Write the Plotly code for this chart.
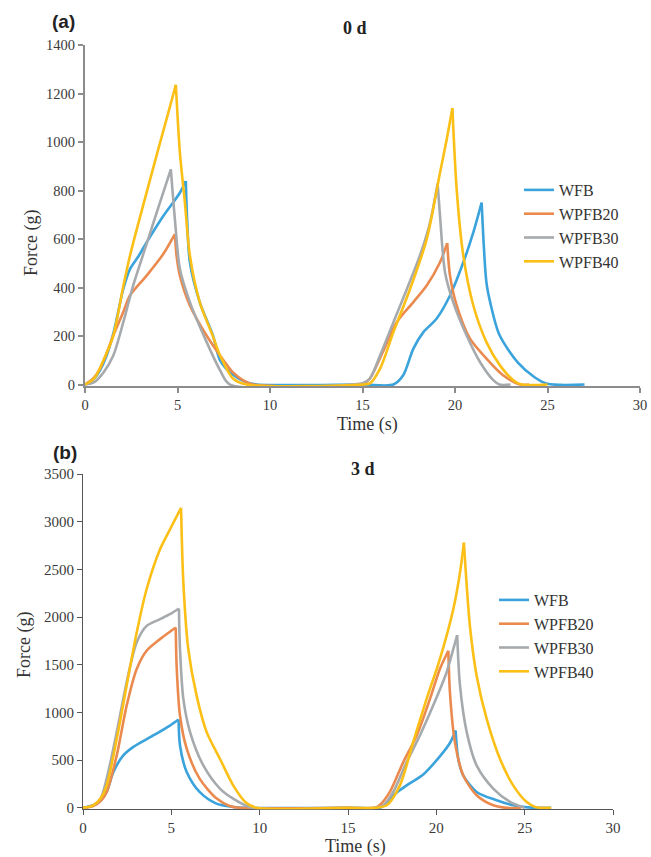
import plotly.graph_objects as go

W, H = 651, 857

series_names = ["WFB", "WPFB20", "WPFB30", "WPFB40"]
colors = ["#3AA3DC", "#EA8A4E", "#A7AAAD", "#FBBF16"]

# ---------- (a) 0 d ----------
a_wfb_t = [0, 0.5, 0.81, 1.17, 1.53, 2.07, 2.43, 2.9, 3.33, 4.23, 5.13, 5.45, 5.52, 5.67, 6.2, 6.92, 7.3, 8.0, 8.7, 9.3,
           15.0, 16.67, 17.2, 17.75, 18.29, 19.0, 19.73, 20.45, 20.99, 21.44, 21.7, 21.9, 22.4, 23.4, 24.3, 25.0, 27.0]
a_wfb_f = [0, 25, 59, 120, 210, 394, 476, 530, 586, 695, 791, 839, 681, 504, 340, 202, 100, 40, 10, 0,
           0, 0, 38, 148, 216, 271, 367, 504, 627, 750, 420, 340, 205, 90, 30, 3, 0]

a_w20_t = [0, 0.5, 0.81, 1.17, 1.53, 2.07, 2.43, 3.33, 4.23, 4.86, 4.95, 5.13, 5.67, 6.57, 7.3, 8.0, 8.6, 9.1,
           15.0, 15.4, 16.1, 16.85, 17.75, 18.47, 19.19, 19.58, 19.73, 20.09, 20.81, 21.7, 22.6, 23.5, 24.0]
a_w20_f = [0, 30, 66, 130, 202, 299, 367, 449, 538, 620, 531, 449, 326, 202, 120, 50, 15, 0,
           0, 25, 134, 257, 340, 408, 504, 583, 449, 326, 189, 107, 38, 0, 0]

a_w30_t = [0, 0.5, 1.0, 1.53, 2.07, 2.61, 3.33, 4.05, 4.64, 4.86, 5.13, 5.67, 6.57, 7.3, 7.84,
           14.5, 15.0, 15.4, 15.95, 16.67, 17.4, 18.1, 18.65, 19.06, 19.19, 19.46, 19.9, 20.63, 21.35, 22.07, 22.4, 23.0]
a_w30_f = [0, 10, 50, 120, 257, 410, 580, 750, 887, 681, 476, 340, 176, 59, 0,
           0, 5, 25, 120, 257, 394, 531, 668, 829, 695, 463, 340, 202, 93, 18, 0, 0]

a_w40_t = [0, 0.5, 1.0, 1.53, 2.07, 2.43, 3.06, 3.87, 4.5, 4.91, 5.13, 5.4, 5.67, 6.2, 6.9, 7.3, 8.0, 8.74,
           15.0, 15.4, 15.95, 16.67, 17.57, 18.47, 19.19, 19.55, 19.86, 20.09, 20.45, 20.99, 21.7, 22.43, 23.15, 23.6, 25.0]
a_w40_f = [0, 25, 100, 202, 405, 531, 715, 945, 1120, 1236, 955, 750, 531, 340, 202, 120, 25, 0,
           0, 5, 66, 216, 394, 599, 873, 1010, 1140, 805, 531, 326, 175, 79, 18, 0, 0]

# ---------- (b) 3 d ----------
b_wfb_t = [0, 0.58, 1.0, 1.34, 1.72, 2.28, 2.85, 3.98, 4.92, 5.41, 5.49, 5.87, 6.6, 7.55, 8.5, 9.2,
           15.0, 16.8, 17.0, 17.56, 18.32, 19.26, 20.2, 20.77, 21.09, 21.24, 21.52, 22.28, 23.41, 24.35, 25.2, 26.5]
b_wfb_f = [0, 27, 80, 167, 376, 550, 640, 759, 863, 926, 654, 376, 167, 45, 10, 0,
           0, 0, 20, 132, 236, 350, 540, 680, 811, 515, 341, 167, 80, 27, 5, 0]

b_w20_t = [0, 0.58, 1.0, 1.34, 1.91, 2.47, 3.04, 3.6, 4.36, 5.25, 5.3, 5.49, 5.87, 6.6, 7.57, 8.3, 8.9,
           15.0, 16.5, 16.8, 17.37, 18.13, 18.89, 19.64, 20.2, 20.68, 20.77, 21.05, 21.52, 22.28, 23.22, 24.0, 24.8]
b_w20_f = [0, 20, 70, 167, 550, 1072, 1456, 1647, 1769, 1891, 1490, 968, 620, 306, 97, 20, 0,
           0, 0, 30, 167, 480, 759, 1142, 1456, 1647, 1212, 690, 341, 132, 27, 0, 0]

b_w30_t = [0, 0.58, 1.0, 1.34, 1.91, 2.47, 3.04, 3.6, 4.36, 4.92, 5.43, 5.49, 5.68, 6.06, 6.81, 7.75, 8.5, 9.6,
           15.0, 16.5, 17.0, 17.56, 18.32, 19.07, 19.82, 20.58, 20.96, 21.18, 21.34, 21.72, 22.28, 23.22, 24.17, 25.0]
b_w30_f = [0, 25, 100, 306, 794, 1317, 1735, 1908, 1978, 2030, 2090, 1665, 1142, 794, 445, 202, 97, 0,
           0, 0, 27, 167, 480, 759, 1072, 1421, 1665, 1811, 1281, 794, 445, 202, 63, 0]

b_w40_t = [0, 0.58, 1.0, 1.34, 1.91, 2.47, 3.04, 3.6, 4.36, 4.92, 5.55, 5.68, 5.96, 6.43, 7.0, 7.75, 8.5, 9.2, 9.83,
           15.0, 16.5, 17.19, 17.94, 18.69, 19.45, 20.2, 20.96, 21.34, 21.56, 21.62, 21.9, 22.28, 22.85, 23.6, 24.35, 25.1, 25.6, 26.5]
b_w40_f = [0, 27, 100, 236, 724, 1281, 1839, 2292, 2710, 2918, 3145, 2362, 1665, 1177, 794, 515, 236, 60, 0,
           0, 0, 27, 236, 690, 1142, 1560, 2083, 2466, 2780, 2605, 1908, 1386, 933, 515, 236, 63, 10, 0]

a_sets = [(a_wfb_t, a_wfb_f), (a_w20_t, a_w20_f), (a_w30_t, a_w30_f), (a_w40_t, a_w40_f)]
b_sets = [(b_wfb_t, b_wfb_f), (b_w20_t, b_w20_f), (b_w30_t, b_w30_f), (b_w40_t, b_w40_f)]

x_ticks = [0, 5, 10, 15, 20, 25, 30]
a_y_ticks = [0, 200, 400, 600, 800, 1000, 1200, 1400]
b_y_ticks = [0, 500, 1000, 1500, 2000, 2500, 3000, 3500]

SERIF = "Liberation Serif, Times New Roman, serif"
SANS = "Liberation Sans, Arial, sans-serif"


def split_at_peaks(t, f):
    """Break the path at each sharp peak so the spline keeps the cusp."""
    xs, ys = [], []
    n = len(t)
    for i in range(n):
        xs.append(t[i])
        ys.append(f[i])
        if 0 < i < n - 1 and f[i] > f[i - 1] and f[i] > f[i + 1]:
            xs.extend([None, t[i]])
            ys.extend([None, f[i]])
    return xs, ys


fig = go.Figure()
for name, col, (t, f) in zip(series_names, colors, a_sets):
    xs, ys = split_at_peaks(t, f)
    fig.add_trace(go.Scatter(x=xs, y=ys, mode="lines", name=name, connectgaps=False,
                             line=dict(color=col, width=2.6, shape="spline", smoothing=0.8),
                             xaxis="x", yaxis="y", legend="legend"))
for name, col, (t, f) in zip(series_names, colors, b_sets):
    xs, ys = split_at_peaks(t, f)
    fig.add_trace(go.Scatter(x=xs, y=ys, mode="lines", name=name, connectgaps=False,
                             line=dict(color=col, width=2.6, shape="spline", smoothing=0.8),
                             xaxis="x2", yaxis="y2", legend="legend2"))


# helpers: page pixel (reference picture) -> paper fraction
def px_x(p):
    return p / W


def px_y(p):
    return (H - p) / H


top_axis = dict(showline=True, linecolor="#8C8C8C", linewidth=2, ticks="outside", ticklen=5,
                tickwidth=1.5, tickcolor="#8C8C8C", showgrid=False, zeroline=False, automargin=False,
                ticklabeloverflow="allow",
                tickfont=dict(family=SERIF, size=14.5, color="#3A3A3A"), layer="below traces")
bot_axis = dict(showline=True, linecolor="#555555", linewidth=1.2, ticks="outside", ticklen=5,
                tickwidth=1.2, tickcolor="#555555", showgrid=False, zeroline=False, automargin=False,
                ticklabeloverflow="allow",
                tickfont=dict(family=SERIF, size=15, color="#3A3A3A"), layer="below traces")

fig.update_layout(
    width=W, height=H, margin=dict(l=0, r=0, t=0, b=0, autoexpand=False),
    paper_bgcolor="white", plot_bgcolor="white",
    xaxis=dict(domain=[px_x(85), px_x(640)], range=[0, 30], tickvals=x_ticks, anchor="y", **top_axis),
    yaxis=dict(domain=[px_y(386), px_y(45)], range=[-6, 1400], tickvals=a_y_ticks, anchor="x", **top_axis),
    xaxis2=dict(domain=[px_x(83), px_x(613)], range=[0, 30], tickvals=x_ticks, anchor="y2", **bot_axis),
    yaxis2=dict(domain=[px_y(809.3), px_y(474)], range=[-15, 3500], tickvals=b_y_ticks, anchor="x2", **bot_axis),
    legend=dict(x=px_x(519), y=px_y(173), xanchor="left", yanchor="top", bgcolor="rgba(0,0,0,0)",
                font=dict(family=SERIF, size=16, color="#333333")),
    legend2=dict(x=px_x(494), y=px_y(583), xanchor="left", yanchor="top", bgcolor="rgba(0,0,0,0)",
                 font=dict(family=SERIF, size=16, color="#333333")),
    showlegend=True,
)


def ann(text, cx, cy, size, family, bold=False, angle=0, color="#222222"):
    fig.add_annotation(text=f"<b>{text}</b>" if bold else text, x=px_x(cx), y=px_y(cy),
                       xref="paper", yref="paper", xanchor="center", yanchor="middle",
                       showarrow=False, textangle=angle,
                       font=dict(family=family, size=size, color=color))


ann("(a)", 63.5, 22, 19, SANS, bold=True)
ann("0 d", 355, 28.5, 18, SERIF, bold=True)
ann("(b)", 64.5, 452, 19, SANS, bold=True)
ann("3 d", 363, 469, 18, SERIF, bold=True)
ann("Force (g)", 31.5, 243.5, 18, SERIF, angle=-90, color="#333333")
ann("Force (g)", 24.5, 645.5, 18, SERIF, angle=-90, color="#333333")
ann("Time (s)", 367, 424, 18, SERIF, color="#333333")
ann("Time (s)", 355, 846, 18, SERIF, color="#333333")

# remove the default page margin so the figure fills the 651x857 window exactly
fig.write_html("out.html",
               config={"displayModeBar": False},
               post_script="document.body.style.margin='0';document.body.style.overflow='hidden';")
